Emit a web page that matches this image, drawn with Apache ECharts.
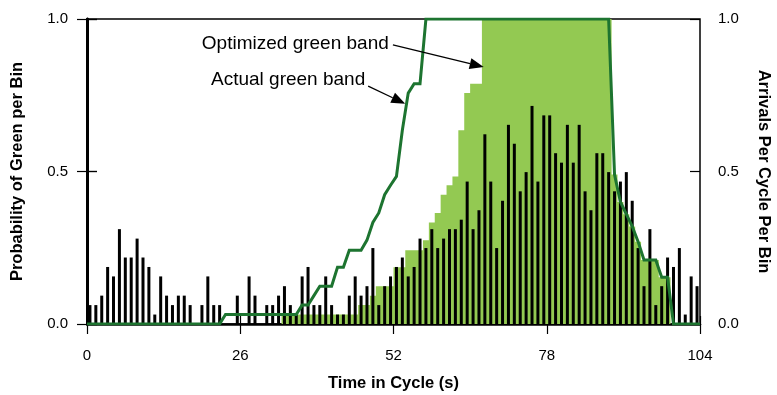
<!DOCTYPE html>
<html>
<head>
<meta charset="utf-8">
<script src="https://cdn.jsdelivr.net/npm/echarts@6/dist/echarts.min.js"></script>
<style>
  html, body { margin: 0; padding: 0; background: #fff; }
  #chart { width: 777px; height: 395px; }
</style>
</head>
<body>
<div id="chart"></div>
<script>
// Time axis ticks (s)
const timeTicks = [0, 26, 52, 78, 104];

// Arrivals per cycle in each one-second bin (bins 0..103)
const arrivals = [
  0.062, 0.062, 0.093, 0.187, 0.156, 0.311, 0.218, 0.218, 0.280, 0.218,
  0.187, 0.031, 0.156, 0.093, 0.062, 0.093, 0.093, 0.062, 0.000, 0.062,
  0.156, 0.062, 0.062, 0.000, 0.000, 0.093, 0.000, 0.156, 0.093, 0.000,
  0.062, 0.062, 0.093, 0.124, 0.062, 0.031, 0.156, 0.187, 0.062, 0.062,
  0.156, 0.062, 0.031, 0.031, 0.093, 0.156, 0.093, 0.124, 0.249, 0.062,
  0.124, 0.156, 0.187, 0.218, 0.156, 0.187, 0.280, 0.249, 0.311, 0.249,
  0.280, 0.311, 0.311, 0.342, 0.467, 0.311, 0.373, 0.622, 0.467, 0.249,
  0.404, 0.653, 0.591, 0.435, 0.498, 0.715, 0.467, 0.684, 0.684, 0.560,
  0.529, 0.653, 0.529, 0.653, 0.435, 0.373, 0.560, 0.560, 0.498, 0.435,
  0.467, 0.498, 0.404, 0.249, 0.124, 0.311, 0.062, 0.124, 0.218, 0.187,
  0.249, 0.031, 0.156, 0.124
];

// Probability of green in each bin, optimized offset
const optimizedGreen = [
  0, 0, 0, 0, 0, 0, 0, 0, 0, 0,
  0, 0, 0, 0, 0, 0, 0, 0, 0, 0,
  0, 0, 0, 0, 0, 0, 0, 0, 0, 0,
  0, 0, 0, 0.031, 0.031, 0.031, 0.031, 0.031, 0.031, 0.031,
  0.031, 0.031, 0.031, 0.031, 0.031, 0.031, 0.062, 0.062, 0.093, 0.124,
  0.124, 0.124, 0.186, 0.186, 0.242, 0.242, 0.242, 0.275, 0.333, 0.364,
  0.424, 0.455, 0.484, 0.635, 0.757, 0.788, 0.788, 1, 1, 1,
  1, 1, 1, 1, 1, 1, 1, 1, 1, 1,
  1, 1, 1, 1, 1, 1, 1, 1, 1, 0.49,
  0.40, 0.36, 0.32, 0.27, 0.21, 0.21, 0.21, 0.153, 0.153, 0,
  0, 0, 0, 0
];

// Probability of green in each bin, actual timing
const actualGreen = [
  0, 0, 0, 0, 0, 0, 0, 0, 0, 0,
  0, 0, 0, 0, 0, 0, 0, 0, 0, 0,
  0, 0, 0, 0.031, 0.031, 0.031, 0.031, 0.031, 0.031, 0.031,
  0.031, 0.031, 0.031, 0.031, 0.031, 0.031, 0.062, 0.062, 0.093, 0.124,
  0.124, 0.124, 0.186, 0.186, 0.242, 0.242, 0.242, 0.275, 0.333, 0.364,
  0.424, 0.455, 0.484, 0.635, 0.757, 0.788, 0.788, 1, 1, 1,
  1, 1, 1, 1, 1, 1, 1, 1, 1, 1,
  1, 1, 1, 1, 1, 1, 1, 1, 1, 1,
  1, 1, 1, 1, 1, 1, 1, 1, 1, 0.49,
  0.40, 0.36, 0.32, 0.27, 0.21, 0.21, 0.21, 0.153, 0.153, 0,
  0, 0, 0, 0
];

// Left / right axis ticks
const probTicks = [0, 0.5, 1];

// Callout labels: text anchor, arrow tail and arrow tip in (time, probability)
const callouts = [
  { text: 'Optimized green band', at: [51.2, 0.92], from: [51.9, 0.915], to: [67.3, 0.843] },
  { text: 'Actual green band',    at: [47.2, 0.80], from: [47.7, 0.780], to: [54.0, 0.722] }
];

const FONT = "'Liberation Sans', Arial, sans-serif";
const GREEN_FILL = '#93c952';
const GREEN_LINE = '#1d7430';

const binCount = arrivals.length;
const tMax = timeTicks[timeTicks.length - 1];

// bars sit at bin centres
const barData = arrivals.map((v, k) => [k + 0.5, v]);
// step area: each bin holds its value from k to k+1
const bandData = optimizedGreen.map((v, k) => [k, v]);
bandData.push([binCount, optimizedGreen[binCount - 1]]);
// polyline through bin centres, held flat out to the axis ends
const lineData = [[0, actualGreen[0]]]
  .concat(actualGreen.map((v, k) => [k + 0.5, v]))
  .concat([[tMax, actualGreen[binCount - 1]]]);

const tickFmt = v => v.toFixed(1);

function xAxisBase(extra) {
  return Object.assign({
    type: 'value', position: 'bottom',
    min: timeTicks[0], max: tMax, interval: timeTicks[1] - timeTicks[0],
    splitLine: { show: false }
  }, extra);
}
function yAxisBase(extra) {
  return Object.assign({
    type: 'value',
    min: probTicks[0], max: probTicks[probTicks.length - 1],
    interval: probTicks[1] - probTicks[0],
    splitLine: { show: false }
  }, extra);
}

const chart = echarts.init(document.getElementById('chart'), null, { renderer: 'canvas' });

chart.setOption({
  animation: false,
  backgroundColor: '#fff',
  grid: {
    left: 87, right: 77, top: 19, bottom: 71,
    containLabel: false, outerBoundsMode: 'none',
    show: true, borderColor: '#000', borderWidth: 1.5
  },
  xAxis: [
    xAxisBase({
      name: 'Time in Cycle (s)', nameLocation: 'middle', nameGap: 51,
      nameTextStyle: { fontFamily: FONT, fontWeight: 'bold', fontSize: 16.5, color: '#000' },
      axisLine: { lineStyle: { color: '#000', width: 2.5 } },
      axisTick: { length: 10, lineStyle: { color: '#000', width: 1.2 } },
      axisLabel: { margin: 24, fontFamily: FONT, fontSize: 15, color: '#000' }
    }),
    xAxisBase({
      axisLine: { show: false },
      axisTick: { inside: true, length: 8, lineStyle: { color: '#000', width: 1.2 } },
      axisLabel: { show: false }
    })
  ],
  yAxis: [
    yAxisBase({
      position: 'left',
      name: 'Probability of Green per Bin', nameLocation: 'middle', nameGap: 61, nameRotate: 90,
      nameTextStyle: { fontFamily: FONT, fontWeight: 'bold', fontSize: 16.5, color: '#000' },
      axisLine: { show: true, lineStyle: { color: '#000', width: 2.5 } },
      axisTick: { show: true, length: 10, lineStyle: { color: '#000', width: 1.2 } },
      axisLabel: { margin: 19, formatter: tickFmt, fontFamily: FONT, fontSize: 15, color: '#000' }
    }),
    yAxisBase({
      position: 'right',
      name: 'Arrivals Per Cycle Per Bin', nameLocation: 'middle', nameGap: 55, nameRotate: -90,
      nameTextStyle: { fontFamily: FONT, fontWeight: 'bold', fontSize: 16.5, color: '#000' },
      axisLine: { show: true, lineStyle: { color: '#000', width: 3 } },
      axisTick: { show: true, length: 10, lineStyle: { color: '#000', width: 1.2 } },
      axisLabel: { margin: 18, formatter: tickFmt, fontFamily: FONT, fontSize: 15, color: '#000' }
    }),
    yAxisBase({
      position: 'left',
      axisLine: { show: false },
      axisTick: { show: true, inside: true, length: 10, lineStyle: { color: '#000', width: 1.2 } },
      axisLabel: { show: false }
    }),
    yAxisBase({
      position: 'right',
      axisLine: { show: false },
      axisTick: { show: true, inside: true, length: 10, lineStyle: { color: '#000', width: 1.2 } },
      axisLabel: { show: false }
    })
  ],
  series: [
    {
      name: 'Optimized green band', type: 'line', step: 'end',
      xAxisIndex: 0, yAxisIndex: 0, z: 1,
      data: bandData, symbol: 'none',
      lineStyle: { width: 0, color: GREEN_FILL },
      areaStyle: { color: GREEN_FILL, opacity: 1 }
    },
    {
      name: 'Arrivals', type: 'bar',
      xAxisIndex: 0, yAxisIndex: 1, z: 2,
      data: barData, barWidth: 3,
      itemStyle: { color: '#000' }
    },
    {
      name: 'Actual green band', type: 'line',
      xAxisIndex: 0, yAxisIndex: 0, z: 3,
      data: lineData, symbol: 'none',
      lineStyle: { width: 3, color: GREEN_LINE, join: 'miter' }
    }
  ]
});

// arrows and their labels, placed through the axes
const px = p => chart.convertToPixel({ xAxisIndex: 0, yAxisIndex: 0 }, p);
const graphics = [];
callouts.forEach(c => {
  const a = px(c.at), f = px(c.from), t = px(c.to);
  const ang = Math.atan2(t[1] - f[1], t[0] - f[0]);
  const headLen = 14, headHalf = 5.5;
  const bx = t[0] - headLen * Math.cos(ang), by = t[1] - headLen * Math.sin(ang);
  const nx = -Math.sin(ang), ny = Math.cos(ang);
  graphics.push({
    type: 'text', z: 10,
    style: { text: c.text, x: a[0], y: a[1], align: 'right', verticalAlign: 'middle',
             fontFamily: FONT, fontSize: 19, fill: '#000' }
  });
  graphics.push({
    type: 'line', z: 10,
    shape: { x1: f[0], y1: f[1], x2: bx, y2: by },
    style: { stroke: '#000', lineWidth: 1.3 }
  });
  graphics.push({
    type: 'polygon', z: 10,
    shape: { points: [t, [bx + nx * headHalf, by + ny * headHalf], [bx - nx * headHalf, by - ny * headHalf]] },
    style: { fill: '#000' }
  });
});
chart.setOption({ graphic: graphics });
</script>
</body>
</html>
